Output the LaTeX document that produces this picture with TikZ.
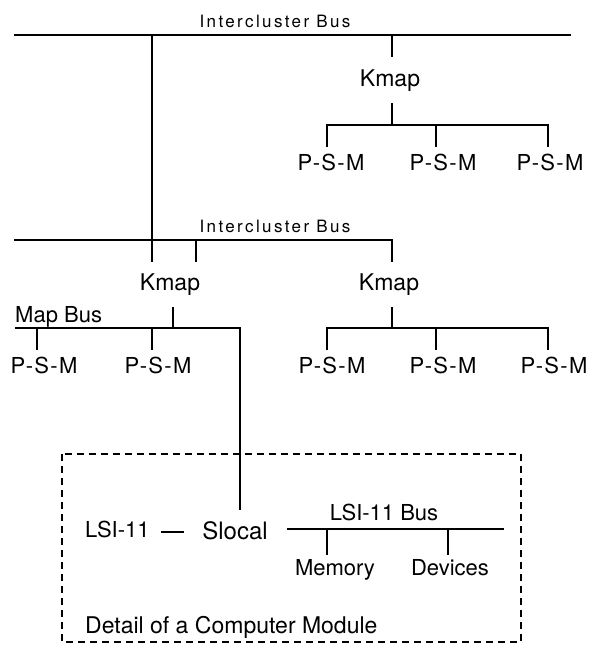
\documentclass[tikz,border=0pt]{standalone}
\usepackage{fontspec}
\setmainfont{TeX Gyre Heros}
\newfontfamily\busfont[LetterSpace=14]{TeX Gyre Heros}
\newfontfamily\psmfont[LetterSpace=6]{TeX Gyre Heros}
\begin{document}
\begin{tikzpicture}[x=1pt,y=-1pt,
  lab/.style={inner sep=0pt, font=\fontsize{22}{24}\selectfont, anchor=base},
  psm/.style={inner sep=0pt, font=\psmfont\fontsize{22}{24}\selectfont, anchor=base},
  kmap/.style={inner sep=0pt, font=\fontsize{23}{26}\selectfont, anchor=base},
  big/.style={inner sep=0pt, font=\fontsize{24}{26}\selectfont, anchor=base},
  buslab/.style={inner sep=0pt, font=\busfont\fontsize{17}{20}\selectfont, anchor=base},
  wire/.style={line width=1.5pt},
  frame/.style={line width=1.3pt, dash pattern=on 7pt off 5pt}]
\useasboundingbox (0,0) rectangle (592,646);

% ---------- top cluster ----------
\node[buslab] (ib1) at (275,27) {Intercluster Bus};
\coordinate (b1w) at (14,35);
\coordinate (b1e) at (571,35);
\coordinate (b1a) at (152,35);
\coordinate (b1k) at (392,35);
\draw[wire] (b1w) -- (b1e);

\node[kmap] (k1) at (390,86) {Kmap};
\coordinate (k1n) at (392,57);
\coordinate (k1s) at (392,103);
\draw[wire] (b1k) -- (k1n);

\coordinate (p1bus) at (392,125);
\coordinate (p1w) at (327,125);
\coordinate (p1m) at (436,125);
\coordinate (p1e) at (548,125);
\coordinate (p1wd) at (327,147);
\coordinate (p1md) at (436,147);
\coordinate (p1ed) at (548,147);
\draw[wire] (k1s) -- (p1bus);
\draw[wire] (p1wd) -- (p1w) -- (p1e) -- (p1ed);
\draw[wire] (p1m) -- (p1md);
\node[psm] (psm1) at (331,170) {P-S-M};
\node[psm] (psm2) at (443,170) {P-S-M};
\node[psm] (psm3) at (550,170) {P-S-M};

% ---------- second intercluster bus ----------
\node[buslab] (ib2) at (275,232) {Intercluster Bus};
\coordinate (b2w) at (14,240);
\coordinate (b2a) at (152,240);
\coordinate (b2t) at (196,240);
\coordinate (b2e) at (392,240);
\coordinate (kLa) at (152,262);
\coordinate (kLb) at (196,262);
\coordinate (kRn) at (392,262);
\draw[wire] (b1a) -- (kLa);
\draw[wire] (b2w) -- (b2e) -- (kRn);
\draw[wire] (b2t) -- (kLb);

\node[kmap] (k2) at (170,290) {Kmap};
\node[kmap] (k3) at (389,290) {Kmap};

% ---------- left cluster (map bus) ----------
\node[lab, anchor=base west] (mapbus) at (15,322) {Map Bus};
\coordinate (k2s) at (173,307);
\coordinate (m2) at (173,328);
\coordinate (mw) at (15,328);
\coordinate (me) at (240,328);
\coordinate (ma) at (37,328);
\coordinate (mb) at (152,328);
\coordinate (mad) at (37,350);
\coordinate (mbd) at (152,350);
\coordinate (slt) at (240,510);
\draw[wire] (k2s) -- (m2);
\draw[wire] (mw) -- (me) -- (slt);
\draw[wire] (ma) -- (mad);
\draw[wire] (mb) -- (mbd);
\node[psm] (psm4) at (44,373) {P-S-M};
\node[psm] (psm5) at (158,373) {P-S-M};

% ---------- right cluster ----------
\coordinate (k3s) at (392,307);
\coordinate (r2) at (392,328);
\coordinate (rw) at (327,328);
\coordinate (rm) at (436,328);
\coordinate (re) at (548,328);
\coordinate (rwd) at (327,350);
\coordinate (rmd) at (436,350);
\coordinate (red) at (548,350);
\draw[wire] (k3s) -- (r2);
\draw[wire] (rwd) -- (rw) -- (re) -- (red);
\draw[wire] (rm) -- (rmd);
\node[psm] (psm6) at (332,373) {P-S-M};
\node[psm] (psm7) at (443,373) {P-S-M};
\node[psm] (psm8) at (554,373) {P-S-M};

% ---------- detail of a computer module ----------
\draw[frame] (62,454) rectangle (521,642);

\node[lab, anchor=base west] (lsi) at (85,537) {LSI-11};
\node[big] (slocal) at (235,539) {Slocal};
\draw[wire] ([xshift=11pt]lsi.east |- 0,532) -- ([xshift=-18pt]slocal.west |- 0,532);

\node[lab] (lsibus) at (384,520) {LSI-11 Bus};
\coordinate (lbw) at (287,529);
\coordinate (lbe) at (504,529);
\coordinate (lbm) at (327,529);
\coordinate (lbd) at (448,529);
\coordinate (lbmd) at (327,555);
\coordinate (lbdd) at (448,555);
\draw[wire] (lbw) -- (lbe);
\draw[wire] (lbm) -- (lbmd);
\draw[wire] (lbd) -- (lbdd);
\node[lab] (mem) at (335,575) {Memory};
\node[lab] (dev) at (450,575) {Devices};

\node[lab, anchor=base west, font=\fontsize{23}{25}\selectfont] (detail) at (85,633) {Detail of a Computer Module};
\end{tikzpicture}
\end{document}
